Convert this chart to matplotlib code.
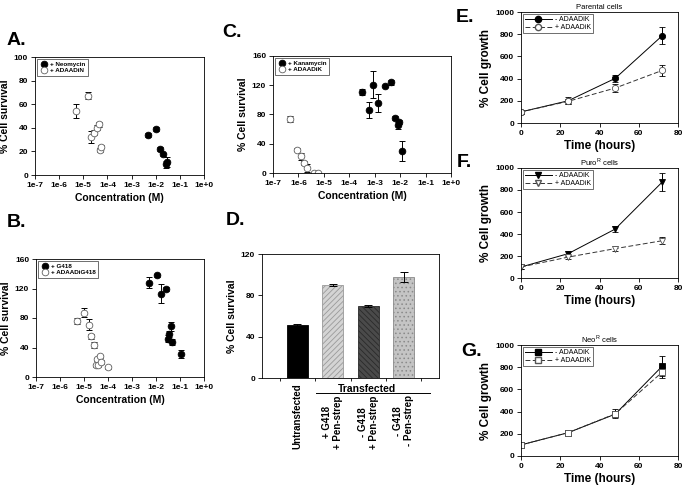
import numpy as np
import matplotlib
matplotlib.use('Agg')
import matplotlib.pyplot as plt
from matplotlib.lines import Line2D

plt.rcParams['font.family'] = ['Liberation Sans', 'DejaVu Sans']
plt.rcParams['font.weight'] = 'bold'
plt.rcParams['axes.labelweight'] = 'bold'
plt.rcParams['hatch.linewidth'] = 0.6

W, H = 686, 490

# ---- Panel A: neomycin vs ADAADiN ----
neo_x = [5e-3, 1e-2, 1.5e-2, 2e-2, 2.6e-2, 3e-2]
neo_y = [34, 39, 22, 17.5, 9, 11]
neo_err = [2, 2, 1.5, 1.5, 3, 4]
adn_x = [5e-6, 1.5e-5, 2e-5, 2.8e-5, 3.6e-5, 4.4e-5, 4.9e-5, 5.4e-5]
adn_y = [54, 67, 32, 36, 40, 43, 21, 24]
adn_err = [6, 3, 5, 2, 2, 2, 1.5, 1.5]

# ---- Panel B: G418 vs ADAADiG418 ----
g418_x = [5.2e-3, 1.07e-2, 1.6e-2, 2.6e-2, 3.1e-2, 3.6e-2, 4.1e-2, 4.8e-2, 1.07e-1]
g418_y = [128, 138, 113, 119, 52, 58, 69, 48, 31]
g418_err = [7, 2, 13, 3, 5, 4, 6, 4, 5]
adg_x = [5.3e-6, 1.0e-5, 1.56e-5, 1.96e-5, 2.7e-5, 3.1e-5, 3.5e-5, 4e-5, 4.6e-5, 5e-5, 1e-4]
adg_y = [76, 87, 71, 55, 43, 16, 24, 16, 28, 20, 13]
adg_err = [4, 6, 7, 3, 4, 2, 2, 3, 2, 3, 1.5]

# ---- Panel C: kanamycin vs ADAADiK ----
kan_x = [3.1e-4, 6e-4, 8.7e-4, 1.4e-3, 2.6e-3, 4.2e-3, 6.3e-3, 7.9e-3, 9.4e-3, 1.2e-2]
kan_y = [111, 86, 121, 96, 119, 124, 75, 65, 70, 30]
kan_err = [4, 11, 18, 12, 2, 3, 3, 5, 3, 14]
adk_x = [4.5e-7, 8.8e-7, 1.26e-6, 1.7e-6, 2.2e-6, 4e-6, 5.9e-6]
adk_y = [74, 32, 23, 14, 7, 0, 0]
adk_err = [4, 2, 5, 3, 5, 0.5, 0.5]

# ---- Panel D: bars ----
bar_labels = ['Untransfected', '+ G418\n+ Pen-strep', '- G418\n+ Pen-strep', '- G418\n- Pen-strep']
bar_vals = [51, 90, 70, 98]
bar_err = [1.5, 0.6, 1, 5]

# ---- Panels E-G: growth curves ----
hours = [0, 24, 48, 72]
par_minus = [100, 200, 402, 787]
par_minus_err = [15, 30, 30, 75]
par_plus = [100, 195, 315, 474]
par_plus_err = [15, 25, 40, 50]
puro_minus = [100, 221, 445, 873]
puro_minus_err = [15, 25, 25, 85]
puro_plus = [100, 190, 267, 339]
puro_plus_err = [15, 15, 20, 30]
neo_minus = [100, 210, 377, 810]
neo_minus_err = [10, 25, 30, 90]
neo_plus = [100, 210, 380, 756]
neo_plus_err = [10, 25, 40, 50]

fig = plt.figure(figsize=(6.86, 4.9), dpi=100)


def px_axes(x0, y0, x1, y1):
    return fig.add_axes([x0 / W, 1 - y1 / H, (x1 - x0) / W, (y1 - y0) / H])


def style(ax, size=6):
    for s in ax.spines.values():
        s.set_linewidth(0.6)
    ax.tick_params(direction='out', length=3, width=0.6, labelsize=size, pad=2)


def dose_panel(ax, xs1, ys1, es1, lab1, xs2, ys2, es2, lab2, ymax, step):
    ax.errorbar(xs1, ys1, yerr=es1, fmt='none', ecolor='black', elinewidth=0.7, capsize=2.5, capthick=0.7)
    ax.errorbar(xs2, ys2, yerr=es2, fmt='none', ecolor='black', elinewidth=0.7, capsize=2.5, capthick=0.7)
    ax.plot(xs1, ys1, 'o', ms=4.8, mfc='black', mec='black', mew=0.6, ls='none', label=lab1)
    ax.plot(xs2, ys2, 'o', ms=4.8, mfc='white', mec='#606060', mew=0.6, ls='none', label=lab2)
    ax.set_xscale('log')
    ax.set_xlim(1e-7, 1)
    ticks = [10.0 ** k for k in range(-7, 1)]
    ax.set_xticks(ticks)
    ax.set_xticklabels(['1e-7', '1e-6', '1e-5', '1e-4', '1e-3', '1e-2', '1e-1', '1e+0'])
    ax.minorticks_off()
    ax.set_ylim(0, ymax)
    ax.set_yticks(np.arange(0, ymax + 1, step))
    ax.set_xlabel('Concentration (M)', fontsize=7.5, labelpad=3)
    ax.set_ylabel('% Cell survival', fontsize=7.5, labelpad=3)
    style(ax)
    leg = ax.legend(loc='upper left', fontsize=4.5, frameon=True, fancybox=False, edgecolor='black',
                    borderpad=0.4, handletextpad=0.2, labelspacing=0.15, borderaxespad=0.3, handlelength=1.5)
    leg.get_frame().set_linewidth(0.5)


axA = px_axes(35, 57, 204, 175)
dose_panel(axA, neo_x, neo_y, neo_err, '+ Neomycin', adn_x, adn_y, adn_err, '+ ADAADiN', 100, 20)

axC = px_axes(273, 56, 451, 173)
dose_panel(axC, kan_x, kan_y, kan_err, '+ Kanamycin', adk_x, adk_y, adk_err, '+ ADAADiK', 160, 40)

axB = px_axes(36, 259, 204, 377)
dose_panel(axB, g418_x, g418_y, g418_err, '+ G418', adg_x, adg_y, adg_err, '+ ADAADiG418', 160, 40)

# Panel D
axD = px_axes(262, 254, 439, 378)
pos = np.arange(len(bar_vals))
faces = ['black', '#d4d4d4', '#4a4a4a', '#c4c4c4']
hatches = [None, '//////', '\\\\\\\\\\\\', '....']
hcolors = ['black', '#9a9a9a', '#2a2a2a', '#8a8a8a']
for i in pos:
    axD.bar(pos[i], bar_vals[i], width=0.6, color=faces[i], hatch=hatches[i], edgecolor=hcolors[i], linewidth=0.6)
axD.errorbar(pos, bar_vals, yerr=bar_err, fmt='none', ecolor='black', elinewidth=0.7, capsize=3, capthick=0.7)
axD.set_xlim(-1, 4)
axD.set_ylim(0, 120)
axD.set_yticks([0, 40, 80, 120])
axD.set_xticks([-0.5, 0.5, 1.5, 2.5, 3.5])
axD.set_xticklabels([])
axD.set_ylabel('% Cell survival', fontsize=7.5, labelpad=3)
style(axD)
axD.tick_params(axis='x', length=2)
tr = axD.get_xaxis_transform()
axD.text(0, -0.04, bar_labels[0], rotation=90, ha='center', va='top', fontsize=7, transform=tr)
for i in range(1, 4):
    axD.text(pos[i], -0.14, bar_labels[i], rotation=90, ha='center', va='top', fontsize=7,
             transform=tr, linespacing=1.1)
axD.text(1.97, -0.045, 'Transfected', ha='center', va='top', fontsize=7.5, transform=tr)
axD.add_line(Line2D([0.53, 3.74], [-0.121, -0.121], color='black', lw=0.7, transform=tr, clip_on=False))


def growth_panel(ax, title, marker, y1, e1, y2, e2):
    ax.errorbar(hours, y1, yerr=e1, fmt='-', color='black', lw=0.7, marker=marker, ms=4.5,
                mfc='black', mec='black', mew=0.6, ecolor='black', elinewidth=0.7, capsize=2.5,
                capthick=0.7)
    ax.errorbar(hours, y2, yerr=e2, fmt='--', color='#333333', lw=0.7, marker=marker, ms=4.5,
                mfc='white', mec='#555555', mew=0.6, ecolor='black', elinewidth=0.7, capsize=2.5,
                capthick=0.7, dashes=(5, 2.5))
    ax.set_xlim(0, 80)
    ax.set_ylim(0, 1000)
    ax.set_xticks([0, 20, 40, 60, 80])
    ax.set_yticks(np.arange(0, 1001, 200))
    ax.set_xlabel('Time (hours)', fontsize=8.5, labelpad=2)
    ax.set_ylabel('% Cell growth', fontsize=8.5, labelpad=2)
    ax.set_title(title, fontsize=5.5, fontweight='normal', pad=2)
    style(ax, 6)
    handles = [
        Line2D([], [], color='black', lw=0.7, marker=marker, ms=4.5, mfc='black', mec='black'),
        Line2D([], [], color='#333333', lw=0.7, ls='--', dashes=(5, 2.5), marker=marker, ms=4.5,
               mfc='white', mec='#555555'),
    ]
    leg = ax.legend(handles, ['- ADAADiK', '+ ADAADiK'], loc='upper left', fontsize=5, frameon=True,
                    fancybox=False, edgecolor='black', borderpad=0.3, handletextpad=0.5,
                    labelspacing=0.15, borderaxespad=0.3, handlelength=3.8)
    leg.get_frame().set_linewidth(0.5)
    for t in leg.get_texts():
        t.set_fontweight('normal')


axE = px_axes(521, 12, 678, 123)
growth_panel(axE, 'Parental cells', 'o', par_minus, par_minus_err, par_plus, par_plus_err)
axF = px_axes(521, 168, 678, 278)
growth_panel(axF, 'Puro$^{\\mathregular{R}}$ cells', 'v', puro_minus, puro_minus_err, puro_plus, puro_plus_err)
axG = px_axes(521, 345, 678, 456)
growth_panel(axG, 'Neo$^{\\mathregular{R}}$ cells', 's', neo_minus, neo_minus_err, neo_plus, neo_plus_err)

# panel letters
for letter, x, y in [('A.', 7, 45), ('C.', 222, 37), ('B.', 7, 227), ('D.', 226, 225),
                     ('E.', 456, 22), ('F.', 457, 167), ('G.', 461, 356)]:
    fig.text(x / W, 1 - y / H, letter, fontsize=14, fontweight='bold', ha='left', va='baseline')

fig.savefig('out.png', dpi=100)
